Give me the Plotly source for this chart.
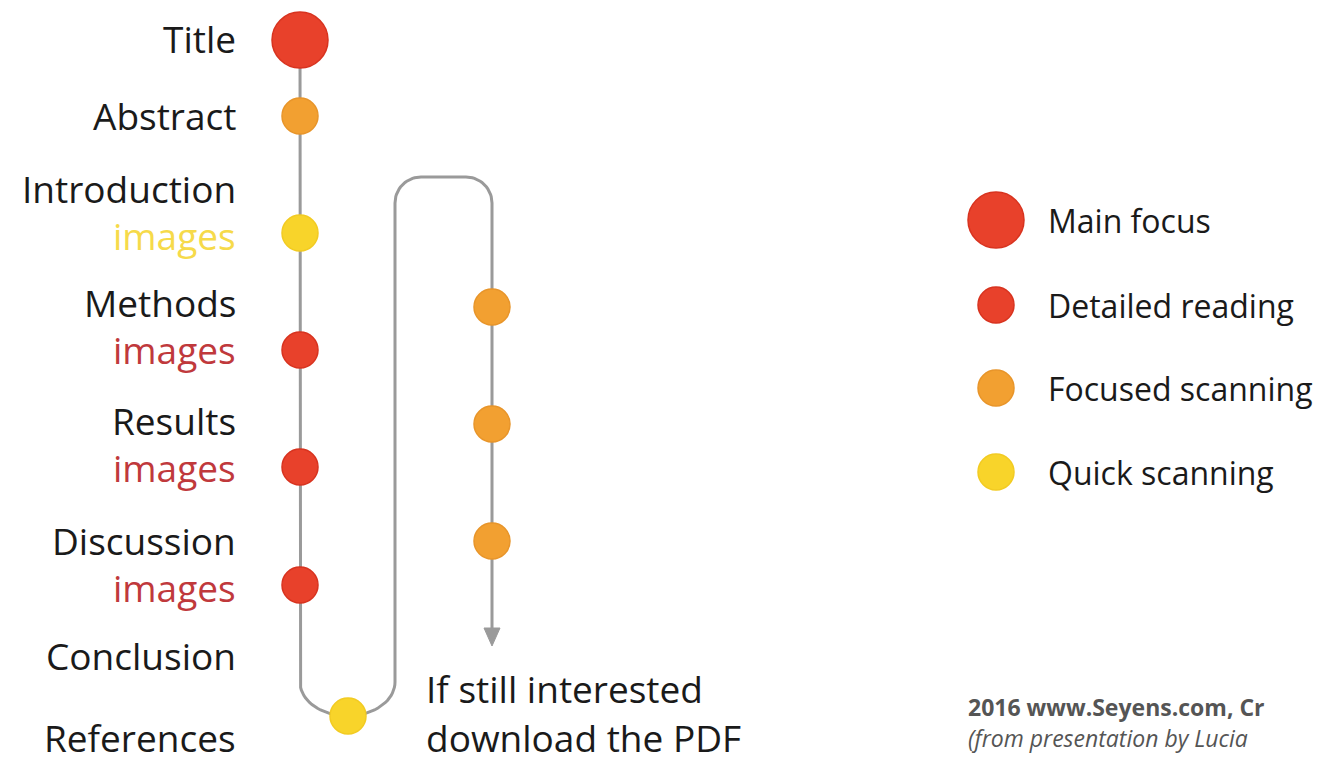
import numpy as np
import plotly.graph_objects as go

# ---------------- data ----------------
sections = ["Title", "Abstract", "Introduction", "Methods", "Results", "Discussion", "Conclusion", "References"]
has_images = [False, False, True, True, True, True, False, False]
first_pass_level = ["Main focus", "Focused scanning", None, None, None, None, None, "Quick scanning"]
image_level = [None, None, "Quick scanning", "Detailed reading", "Detailed reading", "Detailed reading", None, None]
second_pass_level = ["Focused scanning", "Focused scanning", "Focused scanning"]
legend_levels = ["Main focus", "Detailed reading", "Focused scanning", "Quick scanning"]
pdf_note = ["If still interested", "download the PDF"]
credit_lines = ["2016 www.Seyens.com, Cr", "(from presentation by Lucia"]

# ---------------- styles ----------------
W, H = 1328, 765
BODY = 8  # default page body margin of the html page
FONT = "Open Sans"
level_color = {"Main focus": "#E8412B", "Detailed reading": "#E8412B",
               "Focused scanning": "#F2A031", "Quick scanning": "#F8D42A"}
level_edge = {"Main focus": "#D8331F", "Detailed reading": "#D8331F",
              "Focused scanning": "#E8952A", "Quick scanning": "#F2CB22"}
level_size = {"Main focus": 56, "Detailed reading": 36, "Focused scanning": 36, "Quick scanning": 36}
image_text_color = {"Quick scanning": "#F6DA4A", "Detailed reading": "#C0393C"}
LINE = "#9A9A9A"
LABEL_SIZE = 37

# layout positions (page pixels, y downward)
label_x = 238
col1_x, col2_x = 300, 492
section_y = [38, 115, 188, 302, 420, 540, 655, 737]
image_dy = 47
dot_y = {"Title": 40, "Abstract": 116, "References": 716}
image_dot_y = [None, None, 233, 350, 467, 585, None, None]
second_pass_y = [307, 424, 541]
ref_dot_x = 348

fig = go.Figure()

# ---- path line ----
xs, ys = [], []
xs += [col1_x, col1_x]; ys += [40, 682]
rx, ry = (395 - col1_x) / 2, 34
cx, cy = (col1_x + 395) / 2, 682
t = np.linspace(np.pi, 0, 40)
xs += list(cx + rx * np.cos(t)); ys += list(cy + ry * np.sin(t))
r = 26
top = 177
xs += [395]; ys += [top + r]
t = np.linspace(np.pi, 1.5 * np.pi, 20)
xs += list(395 + r + r * np.cos(t)); ys += list(top + r + r * np.sin(t))
t = np.linspace(1.5 * np.pi, 2 * np.pi, 20)
xs += list(col2_x - r + r * np.cos(t)); ys += list(top + r + r * np.sin(t))
xs += [col2_x]; ys += [632]
fig.add_trace(go.Scatter(x=xs, y=ys, mode="lines", line=dict(color=LINE, width=3),
                         hoverinfo="skip", showlegend=False))
# arrow head
fig.add_trace(go.Scatter(x=[col2_x - 8, col2_x + 8, col2_x, col2_x - 8], y=[628, 628, 646, 628],
                         mode="lines", fill="toself", fillcolor=LINE, line=dict(color=LINE, width=1),
                         hoverinfo="skip", showlegend=False))

# ---- dots ----
def dot(x, y, level):
    fig.add_trace(go.Scatter(x=[x], y=[y], mode="markers",
                             marker=dict(size=level_size[level], color=level_color[level],
                                         line=dict(color=level_edge[level], width=1.5)),
                             hoverinfo="skip", showlegend=False))

for i, s in enumerate(sections):
    lvl = first_pass_level[i]
    if lvl:
        x = ref_dot_x if s == "References" else col1_x
        dot(x, dot_y[s], lvl)
    if image_level[i]:
        dot(col1_x, image_dot_y[i], image_level[i])
for y, lvl in zip(second_pass_y, second_pass_level):
    dot(col2_x, y, lvl)

# ---- labels ----
ann = []
for i, s in enumerate(sections):
    ann.append(dict(x=label_x, y=section_y[i], text=s, xanchor="right", yanchor="middle",
                    showarrow=False, font=dict(family=FONT, size=LABEL_SIZE, color="#1A1A1A")))
    if has_images[i]:
        ann.append(dict(x=label_x, y=section_y[i] + image_dy, text="images", xanchor="right",
                        yanchor="middle", showarrow=False,
                        font=dict(family=FONT, size=LABEL_SIZE, color=image_text_color[image_level[i]])))
for j, (line, y) in enumerate(zip(pdf_note, [688, 737])):
    ann.append(dict(x=424, y=y, text=line, xanchor="left", yanchor="middle",
                    showarrow=False, font=dict(family=FONT, size=LABEL_SIZE, color="#1A1A1A")))

# ---- legend ----
legend_y = [220, 305, 388, 472]
for lvl, y in zip(legend_levels, legend_y):
    dot(996, y, lvl)
    ann.append(dict(x=1046, y=y, text=lvl, xanchor="left", yanchor="middle", showarrow=False,
                    font=dict(family=FONT, size=32, color="#1A1A1A")))

# ---- credit ----
ann.append(dict(x=966, y=707, text="<b>" + credit_lines[0] + "</b>", xanchor="left", yanchor="middle",
                showarrow=False, font=dict(family=FONT, size=23, color="#555555")))
ann.append(dict(x=966, y=738, text="<i>" + credit_lines[1] + "</i>", xanchor="left", yanchor="middle",
                showarrow=False, font=dict(family=FONT, size=23, color="#555555")))

fig.update_layout(
    width=W - BODY, height=H - BODY, margin=dict(l=0, r=0, t=0, b=0),
    paper_bgcolor="white", plot_bgcolor="white",
    xaxis=dict(range=[BODY, W], visible=False, fixedrange=True),
    yaxis=dict(range=[H, BODY], visible=False, fixedrange=True),
    annotations=ann, showlegend=False,
)
fig.write_html("out.html")
